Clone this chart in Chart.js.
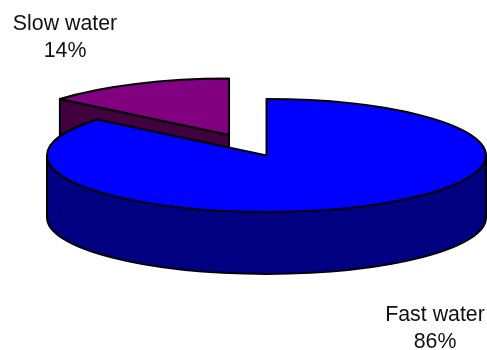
<!DOCTYPE html>
<html>
<head>
<meta charset="utf-8">
<title>Water share</title>
<script src="https://cdn.jsdelivr.net/npm/chart.js@4/dist/chart.umd.min.js"></script>
<style>
    html, body { margin: 0; padding: 0; background: #fff; }
    canvas { display: block; }
</style>
</head>
<body>
<canvas id="waterChart" width="487" height="350"></canvas>
<script>
"use strict";

const categories = ['Fast water', 'Slow water'];
const shares = [86, 14];
const topColors = ['#0000ff', '#800080'];
const wallColors = ['#000080', '#400040'];
const explodeBy = [0, 88];   // px along the slice's middle angle, before tilting

const tilt = 0.257;    // ellipse height / width of the pie top
const depth = 62;      // wall height in px
const pieRadius = 219.5;

// label centre x and the two baselines
const labelSpots = [
    { x: 435, y: [321, 348] },
    { x: 65, y: [30, 57] },
];

// Chart.js lays the slices out, this only draws them tilted
const pie3d = {
    id: 'pie3d',
    beforeDatasetsDraw(chart) {
        const ctx = chart.ctx;
        const arcs = chart.getDatasetMeta(0).data;

        ctx.save();
        ctx.lineWidth = 2;
        ctx.lineJoin = 'round';
        ctx.strokeStyle = '#000';

        // back slice first, the big one sits over it
        [1, 0].forEach((i) => {
            const arc = arcs[i];
            const half = (arc.startAngle + arc.endAngle) / 2;
            const cx = arc.x + Math.cos(half) * explodeBy[i];
            const cy = arc.y + Math.sin(half) * explodeBy[i] * tilt;
            const rx = arc.outerRadius;
            const ry = rx * tilt;

            ctx.fillStyle = wallColors[i];
            ctx.beginPath();
            if (i === 0) {
                // front wall of the rim, right to left
                ctx.ellipse(cx, cy, rx, ry, 0, 0, Math.PI);
                ctx.ellipse(cx, cy + depth, rx, ry, 0, Math.PI, 0, true);
            } else {
                // cut face between the centre and the left end of the slice
                const tipX = cx + Math.cos(arc.startAngle) * rx;
                const tipY = cy + Math.sin(arc.startAngle) * ry;
                ctx.moveTo(tipX, tipY);
                ctx.lineTo(cx, cy);
                ctx.lineTo(cx, cy + depth);
                ctx.lineTo(tipX, tipY + depth);
            }
            ctx.closePath();
            ctx.fill();
            ctx.stroke();

            ctx.fillStyle = topColors[i];
            ctx.beginPath();
            ctx.moveTo(cx, cy);
            ctx.ellipse(cx, cy, rx, ry, 0, arc.startAngle, arc.endAngle);
            ctx.closePath();
            ctx.fill();
            ctx.stroke();
        });

        ctx.restore();
        return false;
    },
    afterDraw(chart) {
        const ctx = chart.ctx;
        ctx.save();
        ctx.fillStyle = '#111';
        ctx.font = '21.33px "Liberation Sans", Arial, sans-serif';
        ctx.textAlign = 'center';
        categories.forEach((name, i) => {
            ctx.fillText(name, labelSpots[i].x, labelSpots[i].y[0]);
            ctx.fillText(shares[i] + '%', labelSpots[i].x, labelSpots[i].y[1]);
        });
        ctx.restore();
    },
};

new Chart(document.getElementById('waterChart').getContext('2d'), {
    type: 'pie',
    data: {
        labels: categories,
        datasets: [{
            data: shares,
            backgroundColor: topColors,
        }],
    },
    options: {
        responsive: false,
        animation: false,
        radius: pieRadius,
        layout: { padding: { left: 46, bottom: 39 } },
        plugins: {
            legend: { display: false },
            tooltip: { enabled: false },
        },
    },
    plugins: [pie3d],
});
</script>
</body>
</html>
